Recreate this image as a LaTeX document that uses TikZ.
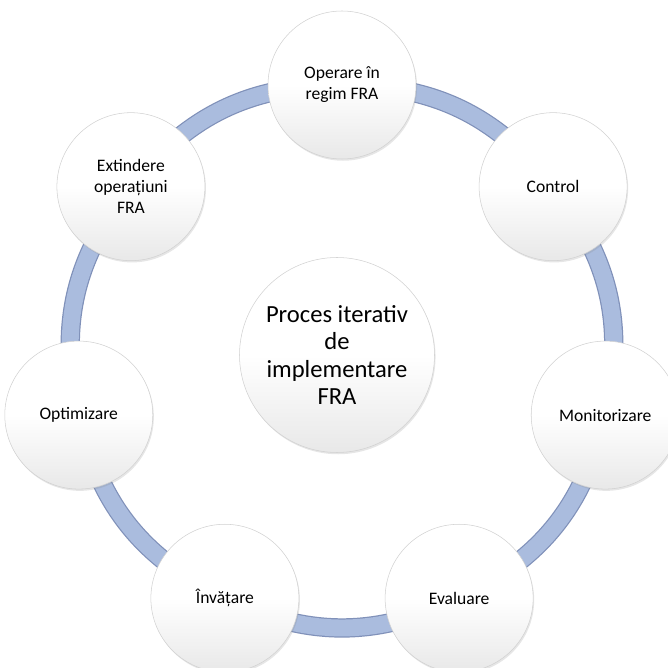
\documentclass[tikz,border=0pt]{standalone}
\usepackage{fontspec}
\setmainfont{Carlito}
\usetikzlibrary{shadows,backgrounds}

\definecolor{ring edge}{RGB}{128,145,185}
\definecolor{ring fill}{RGB}{170,188,222}
\colorlet{stage edge}{black!18}
\tikzset{
  stage/.style={circle, minimum size=2.96cm, inner sep=0pt, align=center,
    font=\fontsize{10}{12}\selectfont, top color=white, bottom color=black!9,
    middle color=white, draw=stage edge, line width=0.3pt,
    drop shadow={shadow xshift=0.6pt, shadow yshift=-1pt, opacity=0.2}},
  hub/.style={stage, minimum size=3.9cm, font=\fontsize{14}{15.5}\selectfont}
  }
\tikzstyle{link} = [draw=ring edge, line width=0.7pt, double=ring fill,
  double distance=9.6pt]

\begin{document}
\begin{tikzpicture}
  \useasboundingbox (0,0) rectangle (13.36,13.36);
  \coordinate (c) at (6.84,6.26);

  \node[hub] (hub) at (6.74,6.26) {Proces iterativ\\de\\implementare\\FRA};

  \foreach \ang/\name/\txt in {90/oper/{Operare în\\regim FRA},
      38.57/ctrl/Control, -12.86/monit/Monitorizare, -64.29/eval/Evaluare,
      -115.71/learn/Învățare, -167.14/optim/Optimizare,
      141.43/extend/{Extindere\\operațiuni\\FRA}} {
    \node[stage] (\name) at ([shift={(\ang:5.4)}]c) {\txt};
  }

  % ring behind the stages
  \begin{pgfonlayer}{background}
    \foreach \a/\b in {oper/ctrl, ctrl/monit, monit/eval, eval/learn,
        learn/optim, optim/extend, extend/oper} {
      \path[link] (\a.center) to[bend left=25.7] (\b.center);
    }
  \end{pgfonlayer}
\end{tikzpicture}
\end{document}
